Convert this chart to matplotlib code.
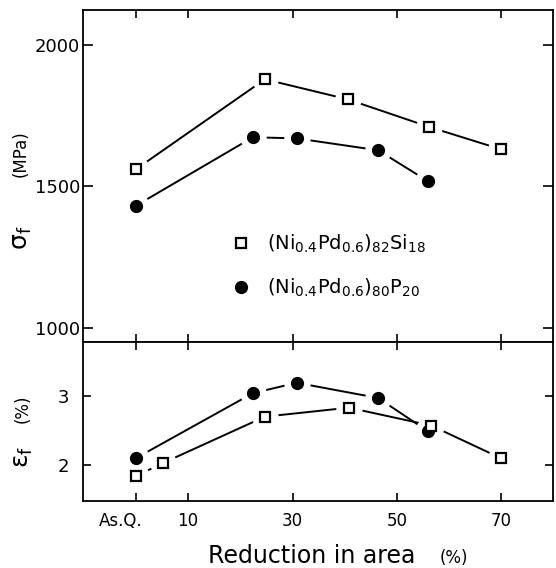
import matplotlib
matplotlib.use("Agg")
import matplotlib.pyplot as plt
from matplotlib.lines import Line2D
from matplotlib.transforms import ScaledTranslation

plt.rcParams["font.family"] = "DejaVu Sans"
plt.rcParams["mathtext.fontset"] = "dejavusans"
plt.rcParams["mathtext.default"] = "regular"

# fracture strength (MPa) vs reduction in area (%)
si_red_sigma = [0, 24.7, 40.6, 56.1, 70.0]
si_sigma = [1561, 1879, 1808, 1711, 1631]
p_red_sigma = [0, 22.4, 30.8, 46.4, 55.9]
p_sigma = [1432, 1674, 1670, 1628, 1519]

# fracture strain (%) vs reduction in area (%)
si_red_eps = [0, 5.2, 24.7, 40.8, 56.6, 69.9]
si_eps = [1.84, 2.03, 2.70, 2.83, 2.57, 2.10]
p_red_eps = [0, 22.4, 30.8, 46.4, 55.9]
p_eps = [2.10, 3.04, 3.19, 2.97, 2.49]

x_ticks = [0, 10, 30, 50, 70]
x_ticklabels = ["As.Q.", "10", "30", "50", "70"]
sigma_ticks = [1000, 1500, 2000]
eps_ticks = [2, 3]

label_si = r"$(Ni_{0.4}Pd_{0.6})_{82}Si_{18}$"
label_p = r"$(Ni_{0.4}Pd_{0.6})_{80}P_{20}$"

W, H = 556, 568
fig = plt.figure(figsize=(W / 100, H / 100), dpi=100)
ax1 = fig.add_axes([83 / W, 1 - 342 / H, 470 / W, 332 / H])
ax2 = fig.add_axes([83 / W, 1 - 501 / H, 470 / W, 159 / H])


def draw(ax, xs_sq, ys_sq, xs_c, ys_c):
    ax.plot(xs_sq, ys_sq, color="black", lw=1.4, zorder=2)
    ax.plot(xs_c, ys_c, color="black", lw=1.4, zorder=2)
    # white halos leave the small gaps between segments and symbols
    for xs, ys in ((xs_sq, ys_sq), (xs_c, ys_c)):
        ax.plot(xs, ys, ls="none", marker="o", ms=19, mfc="white", mec="white",
                mew=0, zorder=3)
    ax.plot(xs_c, ys_c, ls="none", marker="o", ms=8.5, mfc="black", mec="black", zorder=4)
    ax.plot(xs_sq, ys_sq, ls="none", marker="s", ms=7, mfc="white", mec="black", mew=1.6, zorder=5)


draw(ax1, si_red_sigma, si_sigma, p_red_sigma, p_sigma)
draw(ax2, si_red_eps, si_eps, p_red_eps, p_eps)

for ax in (ax1, ax2):
    ax.set_xlim(-10.15, 79.9)
    ax.set_xticks(x_ticks)
    for s in ax.spines.values():
        s.set_linewidth(1.3)
    ax.tick_params(axis="both", direction="in", length=6, width=1.2,
                   top=True, right=True, labelsize=13)

ax1.set_ylim(950, 2124)
ax1.set_yticks(sigma_ticks)
ax1.tick_params(axis="x", labelbottom=False)
ax1.tick_params(axis="y", length=7, pad=2)

ax2.set_ylim(1.48, 3.78)
ax2.set_yticks(eps_ticks)
ax2.tick_params(axis="y", pad=10)
ax2.set_xticklabels(x_ticklabels)
ax2.tick_params(axis="x", labelsize=12, pad=8)
shift = ScaledTranslation(-0.15, 0, fig.dpi_scale_trans)
first = ax2.get_xticklabels()[0]
first.set_transform(first.get_transform() + shift)

handles = [
    Line2D([], [], ls="none", marker="s", ms=7, mfc="white", mec="black", mew=1.6),
    Line2D([], [], ls="none", marker="o", ms=8.5, mfc="black", mec="black"),
]
ax1.legend(handles, [label_si, label_p], loc="center left",
           bbox_to_anchor=(222 / W, 1 - 266 / H), bbox_transform=fig.transFigure,
           frameon=False, fontsize=14, handlelength=1.0, handletextpad=0.8,
           labelspacing=1.1, borderpad=0, numpoints=1)

# axis titles
fig.text(22 / W, 1 - 238 / H, r"$\sigma_f$", rotation=90, fontsize=18,
         ha="center", va="center")
fig.text(21 / W, 1 - 154 / H, "(MPa)", rotation=90, fontsize=12,
         ha="center", va="center")
fig.text(23 / W, 1 - 457 / H, r"$\varepsilon_f$", rotation=90, fontsize=18,
         ha="center", va="center")
fig.text(23 / W, 1 - 409 / H, "(%)", rotation=90, fontsize=12,
         ha="center", va="center")
fig.text(208 / W, 1 - 556 / H, "Reduction in area", fontsize=17,
         ha="left", va="center")
fig.text(440 / W, 1 - 558 / H, "(%)", fontsize=12, ha="left", va="center")

fig.savefig("out.png", dpi=100)
